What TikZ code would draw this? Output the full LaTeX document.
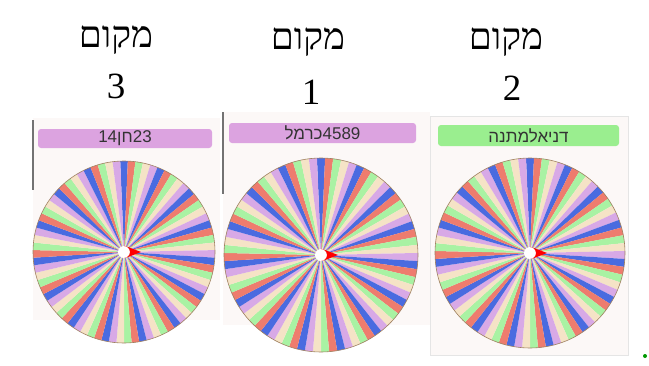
\documentclass[tikz,border=0pt]{standalone}
\usepackage{fontspec}
\usepackage{xcolor}
\usepackage{tikz}
\usetikzlibrary{calc}
\TeXXeTstate=1
\newfontfamily\hebserif[Script=Hebrew]{Liberation Serif}
\newfontfamily\hebsans[Script=Hebrew]{Liberation Sans}
\definecolor{wc0}{HTML}{4A6BE0}
\definecolor{wc1}{HTML}{EE7C6E}
\definecolor{wc2}{HTML}{A9F2A3}
\definecolor{wc3}{HTML}{F5E3C6}
\definecolor{wc4}{HTML}{D8A9E6}
\definecolor{plumbox}{HTML}{DCA3E0}
\definecolor{greenbox}{HTML}{9AEE8F}
\definecolor{panelbg}{HTML}{FCF8F7}

\begin{document}
\begin{tikzpicture}[x=1pt,y=-1pt,
  title/.style={font=\hebserif\fontsize{37}{40}\selectfont, inner sep=0pt},
  rank/.style={font=\hebserif\fontsize{37}{40}\selectfont, inner sep=0pt},
  namebox/.style={rounded corners=3pt, inner sep=0pt,
    font=\hebsans\fontsize{17}{19}\selectfont, text=black!80},
  rim/.style={draw=brown!50!gray, line width=0.6pt},
  ptr/.style={fill=red},
  ]
  \useasboundingbox[fill=white] (0,0) rectangle (649,365);
% panels
  \fill[panelbg] (33,118) rectangle (220,320);
  \fill[panelbg] (223,112) rectangle (430,325);
  \draw[black!10, fill=panelbg] (430,116) rectangle (628,355);
  \draw[black!55, line width=1.4pt] (33,120) -- (33,190);
  \draw[black!55, line width=1.4pt] (223,112) -- (223,194);
% titles
  \node[title] (t3) at (116,40) {\beginR מקום\endR};
  \node[rank] (n3) at (116,86) {3};
  \node[title] (t1) at (308,42) {\beginR מקום\endR};
  \node[rank] (n1) at (311,92) {1};
  \node[title] (t2) at (506,42) {\beginR מקום\endR};
  \node[rank] (n2) at (512,88) {2};
% name boxes
  \node[namebox, fill=plumbox, minimum width=174pt, minimum height=19pt] (b3) at (125,138.5)
    {\beginR\beginL 23\endL חן\beginL 14\endL\endR};
  \node[namebox, fill=plumbox, minimum width=187pt, minimum height=20pt] (b1) at (322.5,133)
    {\beginR\beginL 4589\endL כרמל\endR};
  \node[namebox, fill=greenbox, minimum width=181pt, minimum height=21pt] (b2) at (528.5,135.5)
    {\beginR דניאלמתנה\endR};
% wheels
  \coordinate (w3) at (124,252);
  \coordinate (w1) at (321,255);
  \coordinate (w2) at (530,253);
  \foreach \w/\r in {w3/91, w1/97, w2/95}{
    \foreach \i in {0,...,74}{
      \pgfmathtruncatemacro\k{mod(\i,5)}
      \pgfmathsetmacro\a{92.4-\i*4.8}
      \fill[wc\k] (\w) -- ++(\a:\r pt) arc[start angle=\a, end angle=\a-4.8, radius=\r pt] -- cycle;
    }
    \draw[rim] (\w) circle[radius=\r pt];
    \fill[white] (\w) circle[radius=6pt];
    \fill[ptr] ($(\w)+(0,6)$) arc[start angle=-90, end angle=90, radius=6pt] -- ($(\w)+(4,-5)$) -- ($(\w)+(17,0)$) -- ($(\w)+(4,5)$) -- cycle;
  }
% dot
  \fill[green!60!black] (645,356) circle[radius=2pt];
\end{tikzpicture}
\end{document}
